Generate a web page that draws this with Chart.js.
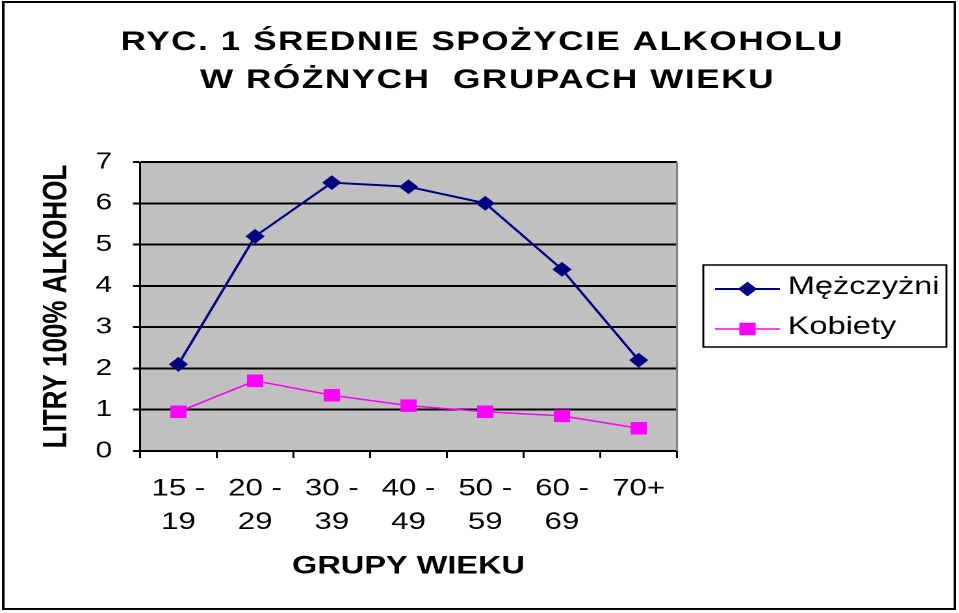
<!DOCTYPE html>
<html lang="pl">
<head>
<meta charset="utf-8">
<title>Ryc. 1 Średnie spożycie alkoholu</title>
<script src="https://cdn.jsdelivr.net/npm/chart.js@4.4.1/dist/chart.umd.min.js"></script>
<style>
  html, body { margin: 0; padding: 0; background: #fff; overflow: hidden; }
  /* the source picture is stretched sideways, so the whole chart is too */
  #wrap { width: 738px; height: 613px; transform: scaleX(1.3); transform-origin: 0 0; }
</style>
</head>
<body>
<div id="wrap"><canvas id="chart"></canvas></div>
<script>
// dane
const ageGroups = [['15 -', '19'], ['20 -', '29'], ['30 -', '39'], ['40 -', '49'], ['50 -', '59'], ['60 -', '69'], ['70+']];
const men = [2.1, 5.2, 6.5, 6.4, 6.0, 4.4, 2.2];
const women = [0.95, 1.7, 1.35, 1.1, 0.95, 0.85, 0.55];
const seriesNames = ['Mężczyżni', 'Kobiety'];
const yMin = 0, yMax = 7, yStep = 1;
const titleLines = ['RYC. 1 ŚREDNIE SPOŻYCIE ALKOHOLU', 'W RÓŻNYCH  GRUPACH WIEKU'];
const yTitle = 'LITRY 100% ALKOHOL';
const xTitle = 'GRUPY WIEKU';

const FONT = "'Liberation Sans', Arial, sans-serif";

const plotBackground = {
    id: 'plotBackground',
    beforeDraw(chart) {
        const {ctx, chartArea: a} = chart;
        ctx.save();
        ctx.fillStyle = '#c0c0c0';
        ctx.fillRect(a.left, a.top, a.right - a.left, a.bottom - a.top);
        ctx.restore();
    },
    beforeDatasetsDraw(chart) {
        const {ctx, chartArea: a} = chart;
        ctx.save();
        ctx.strokeStyle = '#808080';
        ctx.lineWidth = 1.5;
        ctx.beginPath();
        ctx.moveTo(a.right, a.top);
        ctx.lineTo(a.right, a.bottom);
        ctx.stroke();
        ctx.restore();
    }
};

const frameAndTitle = {
    id: 'frameAndTitle',
    afterDraw(chart) {
        const ctx = chart.ctx;
        ctx.save();
        // outer frame
        ctx.strokeStyle = '#000';
        ctx.lineWidth = 2;
        ctx.strokeRect(2.5, 2, 732, 607);
        // heading
        ctx.fillStyle = '#000';
        ctx.font = 'bold 27px ' + FONT;
        ctx.textAlign = 'center';
        ctx.textBaseline = 'alphabetic';
        ctx.letterSpacing = '1.2px';
        ctx.fillText(titleLines[0], 371, 50);
        ctx.fillText(titleLines[1], 375, 88);
        ctx.restore();
    }
};

const legendBox = {
    id: 'legendBox',
    afterDraw(chart) {
        const ctx = chart.ctx;
        const left = 541, top = 265, w = 187, h = 82;
        ctx.save();
        ctx.strokeStyle = '#000';
        ctx.lineWidth = 1.5;
        ctx.strokeRect(left, top, w, h);
        chart.data.datasets.forEach((ds, i) => {
            const y = 289 + i * 40;
            ctx.strokeStyle = ds.borderColor;
            ctx.lineWidth = ds.borderWidth;
            ctx.beginPath();
            ctx.moveTo(550, y);
            ctx.lineTo(600, y);
            ctx.stroke();
            ctx.fillStyle = ds.pointBackgroundColor;
            ctx.strokeStyle = ds.pointBorderColor;
            Chart.helpers.drawPoint(ctx, {pointStyle: ds.pointStyle, radius: ds.pointRadius, rotation: 0, borderWidth: 1}, 575, y);
            ctx.fillStyle = '#000';
            ctx.font = '25px ' + FONT;
            ctx.textAlign = 'left';
            ctx.textBaseline = 'middle';
            ctx.fillText(ds.label, 606, y - 2);
        });
        ctx.restore();
    }
};

const ctx = document.getElementById('chart').getContext('2d');
new Chart(ctx, {
    type: 'line',
    data: {
        labels: ageGroups,
        datasets: [
            {
                label: seriesNames[0],
                data: men,
                borderColor: '#000080',
                backgroundColor: '#000080',
                pointBackgroundColor: '#000080',
                pointBorderColor: '#000080',
                borderWidth: 2,
                pointStyle: 'rectRot',
                pointRadius: 6,
                pointHoverRadius: 6,
                tension: 0
            },
            {
                label: seriesNames[1],
                data: women,
                borderColor: '#ff00ff',
                backgroundColor: '#ff00ff',
                pointBackgroundColor: '#ff00ff',
                pointBorderColor: '#ff00ff',
                borderWidth: 1.5,
                pointStyle: 'rect',
                pointRadius: 7.8,
                pointHoverRadius: 7.8,
                tension: 0
            }
        ]
    },
    options: {
        responsive: true,
        maintainAspectRatio: false,
        devicePixelRatio: 2,
        animation: false,
        layout: {
            padding: {left: 28.4, right: 217.2, top: 162, bottom: 31.5}
        },
        plugins: {
            legend: {display: false},
            title: {display: false},
            tooltip: {enabled: false}
        },
        scales: {
            x: {
                offset: true,
                grid: {
                    offset: true,
                    drawOnChartArea: false,
                    color: '#000',
                    lineWidth: 1.5,
                    tickLength: 7
                },
                border: {color: '#000', width: 2},
                ticks: {
                    color: '#000',
                    padding: 14,
                    maxRotation: 0,
                    autoSkip: false,
                    font: {family: FONT, size: 24, lineHeight: 1.4}
                },
                title: {
                    display: true,
                    text: xTitle,
                    color: '#000',
                    padding: 0,
                    font: {family: FONT, size: 25, weight: 'bold', lineHeight: 1.2}
                },
                afterFit(scale) { scale.height = 130.5; }
            },
            y: {
                min: yMin,
                max: yMax,
                grid: {
                    color: '#000',
                    lineWidth: 2,
                    tickLength: 5.4
                },
                border: {color: '#000', width: 1.5},
                ticks: {
                    stepSize: yStep,
                    color: '#000',
                    padding: 16,
                    font: {family: FONT, size: 23}
                },
                title: {
                    display: true,
                    text: yTitle,
                    color: '#000',
                    padding: 0,
                    font: {family: FONT, size: 26, weight: 'bold', lineHeight: 1.2}
                },
                afterFit(scale) { scale.width = 79.3; }
            }
        }
    },
    plugins: [plotBackground, frameAndTitle, legendBox]
});
</script>
</body>
</html>
